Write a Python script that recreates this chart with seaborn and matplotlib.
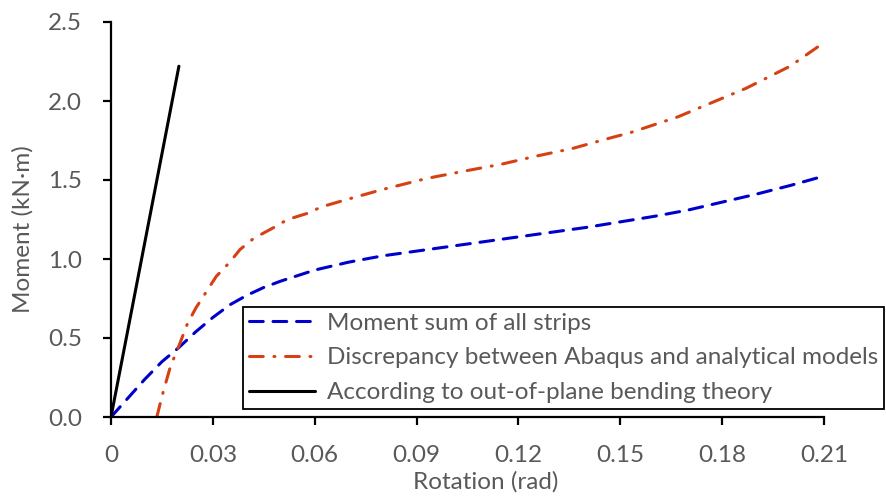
import numpy as np
import pandas as pd
import matplotlib
matplotlib.use("Agg")
import matplotlib.pyplot as plt
import seaborn as sns

# data
blue_x = [0, 0.005, 0.010, 0.015, 0.020, 0.025, 0.030, 0.035, 0.040, 0.045, 0.050,
          0.060, 0.070, 0.080, 0.090, 0.100, 0.120, 0.140, 0.150, 0.160, 0.170,
          0.180, 0.190, 0.200, 0.210]
blue_y = [0, 0.12, 0.24, 0.35, 0.44, 0.54, 0.63, 0.71, 0.77, 0.82, 0.86,
          0.93, 0.98, 1.02, 1.05, 1.08, 1.14, 1.20, 1.235, 1.27, 1.31,
          1.36, 1.41, 1.465, 1.525]

red_x = [0.0135, 0.015, 0.0175, 0.020, 0.0225, 0.025, 0.028, 0.031, 0.035, 0.038,
         0.042, 0.048, 0.052, 0.058, 0.062, 0.070, 0.080, 0.093, 0.105, 0.115,
         0.125, 0.136, 0.146, 0.153, 0.167, 0.187, 0.200, 0.210]
red_y = [0, 0.13, 0.32, 0.45, 0.59, 0.69, 0.79, 0.89, 0.98, 1.06,
         1.13, 1.20, 1.25, 1.29, 1.33, 1.38, 1.44, 1.51, 1.56, 1.60,
         1.65, 1.70, 1.76, 1.80, 1.90, 2.08, 2.22, 2.37]

black_x = [0, 0.020]
black_y = [0, 2.22]

labels = ["Moment sum of all strips",
          "Discrepancy between Abaqus and analytical models",
          "According to out-of-plane bending theory"]
x_ticks = [0, 0.03, 0.06, 0.09, 0.12, 0.15, 0.18, 0.21]
x_tick_labels = ["0", "0.03", "0.06", "0.09", "0.12", "0.15", "0.18", "0.21"]
y_ticks = [0, 0.5, 1.0, 1.5, 2.0, 2.5]

sns.set_style("ticks")
plt.rcParams['font.family'] = ['Lato', 'DejaVu Sans']
grey = "#595959"

fig = plt.figure(figsize=(8.86, 4.98), dpi=100)
ax = fig.add_axes([111/886, 81/498, 713/886, 395/498])

df_b = pd.DataFrame({"x": blue_x, "y": blue_y})
df_r = pd.DataFrame({"x": red_x, "y": red_y})
df_k = pd.DataFrame({"x": black_x, "y": black_y})

sns.lineplot(data=df_b, x="x", y="y", ax=ax, color="#0000CC", lw=2.2,
             label=labels[0], sort=False)
sns.lineplot(data=df_r, x="x", y="y", ax=ax, color="#D64012", lw=2.2,
             label=labels[1], sort=False)
sns.lineplot(data=df_k, x="x", y="y", ax=ax, color="black", lw=2.2,
             label=labels[2], sort=False)
lines = ax.get_lines()
lines[0].set_dashes((4.5, 3.2))
lines[0].set_dash_capstyle("round")
lines[1].set_dashes((4.5, 3.5, 0.3, 3.5))
lines[1].set_dash_capstyle("round")

ax.set_xlim(0, 0.21)
ax.set_ylim(0, 2.5)
ax.set_xticks(x_ticks)
ax.set_xticklabels(x_tick_labels)
ax.set_yticks(y_ticks)
ax.set_yticklabels([f"{v:.1f}" for v in y_ticks])
ax.tick_params(direction="out", length=6, width=1.6, colors="black",
               labelcolor=grey, labelsize=17.5)
ax.tick_params(axis="x", pad=14)
ax.tick_params(axis="y", pad=15)
for s in ["left", "bottom"]:
    ax.spines[s].set_linewidth(1.6)
    ax.spines[s].set_color("black")
sns.despine(ax=ax)

ax.set_xlabel("Rotation (rad)", color=grey, fontsize=17.5)
ax.set_ylabel("Moment (kN·m)", color=grey, fontsize=17.5)
ax.xaxis.set_label_coords(0.526, -0.137)
ax.yaxis.set_label_coords(-0.108, 0.476)

leg = ax.legend(loc="lower left", bbox_to_anchor=(0.185, 0.02), fontsize=17.5,
                frameon=True, fancybox=False, framealpha=1, edgecolor="black",
                handlelength=2.7, handletextpad=0.5, borderpad=0.25,
                labelspacing=0.56, borderaxespad=0)
leg.get_frame().set_linewidth(1.3)
for t in leg.get_texts():
    t.set_color(grey)

fig.savefig("out.png", dpi=100)
